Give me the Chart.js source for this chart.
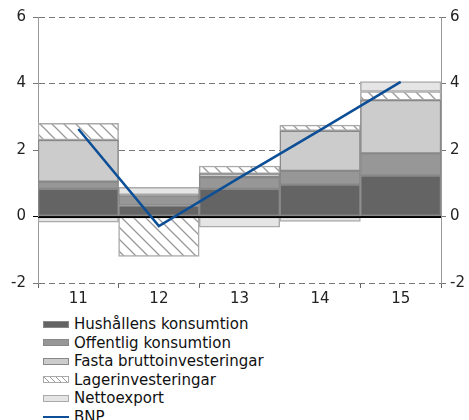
<!DOCTYPE html>
<html>
<head>
<meta charset="utf-8">
<script src="https://cdn.jsdelivr.net/npm/chart.js@4"></script>
<style>
body { margin: 0; background: #fff; font-family: "DejaVu Sans", Verdana, sans-serif; }
#wrap { position: relative; width: 469px; height: 420px; overflow: hidden; }
#legend { position: absolute; left: 43px; top: 315px; font-size: 15px; color: #111; }
.row { height: 18.5px; line-height: 18.5px; display: flex; align-items: center; white-space: nowrap; }
.sw { width: 24px; height: 5px; border: 1px solid #888; margin-right: 5px; }
.line { width: 26px; height: 2px; background: #0d4f96; margin-right: 5px; }
</style>
</head>
<body>
<div id="wrap">
  <canvas id="chart" width="469" height="305"></canvas>
  <div id="legend"></div>
</div>
<script>
// Bidrag till BNP-tillväxt, procentenheter
const years = ['11', '12', '13', '14', '15'];
const hushall = [0.83, 0.33, 0.83, 0.96, 1.23];
const offentlig = [0.22, 0.30, 0.35, 0.41, 0.67];
const fasta = [1.25, 0.03, 0.11, 1.21, 1.60];
const lager = [0.50, -1.20, 0.23, 0.17, 0.26];
const netto = [-0.17, 0.22, -0.32, -0.15, 0.30];
const bnp = [2.63, -0.29, 1.17, 2.60, 4.05];
const yTicks = [-2, 0, 2, 4, 6];

const tickFont = { family: 'DejaVu Sans', size: 15 };

function makeHatch() {
    const c = document.createElement('canvas');
    c.width = 12; c.height = 12;
    const g = c.getContext('2d');
    g.fillStyle = '#fff';
    g.fillRect(0, 0, 12, 12);
    g.strokeStyle = '#999';
    g.lineWidth = 1.3;
    g.beginPath();
    g.moveTo(-1, -1); g.lineTo(13, 13);
    g.moveTo(-1, 11); g.lineTo(1, 13);
    g.moveTo(11, -1); g.lineTo(13, 1);
    g.stroke();
    return g.createPattern(c, 'repeat');
}

function bar(label, data, fill, border) {
    return {
        type: 'bar', label: label, data: data,
        backgroundColor: fill, borderColor: border,
        borderWidth: 1.5, borderSkipped: false,
        barPercentage: 1, categoryPercentage: 1, order: 1
    };
}

const zeroLine = {
    id: 'zeroLine',
    beforeDatasetDraw(chart, args) {
        if (args.meta.type !== 'line') return;
        const { ctx, chartArea, scales } = chart;
        const py = Math.round(scales.y.getPixelForValue(0)) + 0.5;
        ctx.save();
        ctx.strokeStyle = '#000';
        ctx.lineWidth = 1;
        ctx.beginPath();
        ctx.moveTo(chartArea.left, py);
        ctx.lineTo(chartArea.right, py);
        ctx.stroke();
        ctx.restore();
    }
};

const hatch = makeHatch();

new Chart(document.getElementById('chart').getContext('2d'), {
    data: {
        labels: years,
        datasets: [
            bar('Hushållens konsumtion', hushall, '#646464', '#888'),
            bar('Offentlig konsumtion', offentlig, '#979797', '#888'),
            bar('Fasta bruttoinvesteringar', fasta, '#cccccc', '#888'),
            bar('Lagerinvesteringar', lager, hatch, '#aaa'),
            bar('Nettoexport', netto, '#e5e5e5', '#aaa'),
            {
                type: 'line', label: 'BNP', data: bnp, stack: 'bnp',
                borderColor: '#0d4f96', borderWidth: 2.5, pointRadius: 0,
                tension: 0, fill: false, order: 0
            }
        ]
    },
    options: {
        responsive: false,
        animation: false,
        layout: { padding: { top: 17, left: 0, right: 0, bottom: 0 } },
        plugins: { legend: { display: false }, tooltip: { enabled: false } },
        scales: {
            x: {
                stacked: true,
                offset: true,
                grid: { offset: true, drawOnChartArea: false, tickLength: 5, color: '#666' },
                border: { display: false },
                ticks: { font: tickFont, color: '#222', padding: 2 },
                afterFit: s => { s.height = 22; }
            },
            y: {
                position: 'left',
                stacked: true,
                min: -2, max: 6,
                afterBuildTicks: s => { s.ticks = yTicks.map(v => ({ value: v })); },
                ticks: { font: tickFont, color: '#222', padding: 7 },
                grid: {
                    tickLength: 5,
                    color: ctx => ctx.tick && ctx.tick.value === 0 ? '#000' : '#777'
                },
                border: {
                    color: '#999', width: 1,
                    dash: ctx => ctx.tick && ctx.tick.value === 0 ? [] : [6, 4]
                },
                afterFit: s => { s.width = 38; }
            },
            y2: {
                position: 'right',
                min: -2, max: 6,
                afterBuildTicks: s => { s.ticks = yTicks.map(v => ({ value: v })); },
                ticks: { font: tickFont, color: '#222', padding: 4 },
                grid: { drawOnChartArea: false, tickLength: 5, color: '#777' },
                border: { color: '#999', width: 1 },
                afterFit: s => { s.width = 28; }
            }
        }
    },
    plugins: [zeroLine]
});

// legend below the chart, one entry per row
const legendItems = [
    ['Hushållens konsumtion', 'background:#646464'],
    ['Offentlig konsumtion', 'background:#979797'],
    ['Fasta bruttoinvesteringar', 'background:#cccccc'],
    ['Lagerinvesteringar', 'border-color:#aaa;background:repeating-linear-gradient(45deg,#fff 0 3px,#999 3px 4.2px)'],
    ['Nettoexport', 'border-color:#aaa;background:#e5e5e5'],
    ['BNP', null]
];
const legend = document.getElementById('legend');
legend.innerHTML = legendItems.map(([name, style]) =>
    `<div class="row">${style ? `<span class="sw" style="${style}"></span>` : '<span class="line"></span>'}<span>${name}</span></div>`
).join('');
</script>
</body>
</html>
